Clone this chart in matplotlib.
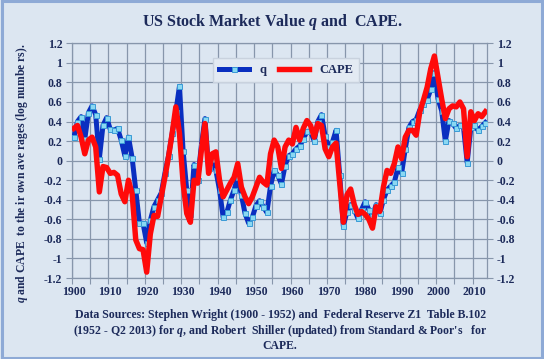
import matplotlib
matplotlib.use("Agg")
import matplotlib.pyplot as plt
from matplotlib.patches import Rectangle

# annual values, 1900 - 2013 (log, relative to own averages)
years = list(range(1900, 2014))

q_vals = [0.24, 0.40, 0.45, 0.22, 0.49, 0.56, 0.47, 0.02, 0.36, 0.44,
          0.32, 0.31, 0.33, 0.21, 0.05, 0.24, 0.03, -0.30, -0.64, -0.64,
          -0.84, -0.61, -0.47, -0.40, -0.33, -0.13, 0.05, 0.28, 0.50, 0.76,
          0.10, -0.30, -0.55, -0.04, -0.20, 0.15, 0.43, -0.08, 0.02, -0.10,
          -0.30, -0.58, -0.53, -0.40, -0.30, -0.17, -0.35, -0.54, -0.64, -0.58,
          -0.46, -0.41, -0.47, -0.53, -0.26, -0.10, -0.15, -0.24, -0.05, 0.05,
          0.07, 0.12, 0.15, 0.22, 0.30, 0.30, 0.20, 0.40, 0.47, 0.25,
          0.14, 0.19, 0.31, -0.15, -0.67, -0.52, -0.45, -0.50, -0.59, -0.50,
          -0.42, -0.50, -0.57, -0.45, -0.54, -0.40, -0.30, -0.26, -0.22, -0.07,
          -0.13, 0.12, 0.34, 0.40, 0.42, 0.52, 0.58, 0.62, 0.73, 0.90,
          0.63, 0.51, 0.20, 0.41, 0.38, 0.33, 0.36, 0.34, -0.02, 0.34,
          0.36, 0.31, 0.35, 0.39]

cape_vals = [0.33, 0.36, 0.24, 0.07, 0.21, 0.24, 0.14, -0.32, -0.06, -0.07,
             -0.13, -0.12, -0.15, -0.34, -0.42, -0.20, -0.34, -0.81, -0.90, -0.91,
             -1.14, -0.75, -0.56, -0.57, -0.37, -0.17, 0.04, 0.28, 0.55, 0.28,
             -0.23, -0.54, -0.63, -0.20, -0.23, 0.10, 0.38, -0.13, 0.07, 0.09,
             -0.20, -0.37, -0.30, -0.23, -0.17, -0.03, -0.27, -0.37, -0.44, -0.37,
             -0.27, -0.17, -0.22, -0.25, 0.07, 0.21, 0.14, -0.08, 0.14, 0.21,
             0.17, 0.34, 0.21, 0.33, 0.41, 0.36, 0.24, 0.38, 0.36, 0.12,
             0.04, 0.14, 0.18, -0.23, -0.63, -0.35, -0.29, -0.45, -0.55, -0.52,
             -0.55, -0.60, -0.69, -0.47, -0.52, -0.27, -0.10, -0.13, -0.03, 0.14,
             0.02, 0.24, 0.31, 0.31, 0.26, 0.50, 0.62, 0.75, 0.94, 1.07,
             0.85, 0.63, 0.43, 0.53, 0.56, 0.55, 0.60, 0.53, 0.04, 0.50,
             0.41, 0.48, 0.45, 0.50]

year_labels = list(range(1900, 2011, 10))
y_ticks = [1.2, 1.0, 0.8, 0.6, 0.4, 0.2, 0.0, -0.2, -0.4, -0.6, -0.8, -1.0, -1.2]
y_tick_labels = ["1.2", "1", "0.8", "0.6", "0.4", "0.2", "0", "-0.2", "-0.4",
                 "-0.6", "-0.8", "-1", "-1.2"]

bg = "#dce6f1"
navy = "#1c2a5a"
gridc = "#8796ab"

plt.rcParams["font.family"] = ["Liberation Serif", "DejaVu Serif"]
plt.rcParams["mathtext.fontset"] = "custom"
plt.rcParams["mathtext.it"] = "Liberation Serif:italic:bold"
plt.rcParams["mathtext.rm"] = "Liberation Serif:bold"

fig = plt.figure(figsize=(5.44, 3.59), dpi=100)
fig.patch.set_facecolor(bg)
fig.patches.append(Rectangle((0.003, 0.004), 0.994, 0.992, transform=fig.transFigure,
                             fill=False, edgecolor="#8eaad6", linewidth=2.2))

ax = fig.add_axes([0.1324, 0.2256, 0.7632, 0.6538])
ax.set_facecolor(bg)

ax.plot(years, q_vals, color="#0a2fc0", linewidth=3.6, marker="s", markersize=3.6,
        markerfacecolor="#8ad8f2", markeredgecolor="#3a9ad6", markeredgewidth=0.7,
        label="q", zorder=3)
ax.plot(years, cape_vals, color="#ff0a0a", linewidth=3.9, label="CAPE", zorder=4,
        solid_joinstyle="round")

ax.set_xlim(1899.5, 2013.5)
ax.set_ylim(-1.2, 1.2)

# gridlines every 5 years between the categories
grid_x = [1899.5 + 5 * k for k in range(23)]
ax.set_xticks(grid_x)
ax.set_xticklabels([])
ax.set_xticks(year_labels, minor=True)
ax.set_xticklabels([str(y) for y in year_labels], minor=True)
ax.tick_params(axis="x", which="major", length=4, color=gridc, direction="out")
ax.tick_params(axis="x", which="minor", length=0, pad=6, labelsize=8.5,
               labelcolor=navy)
for t in ax.get_xticklabels(minor=True):
    t.set_fontweight("bold")

ax.set_yticks(y_ticks)
ax.set_yticklabels(y_tick_labels, fontweight="bold", fontsize=8.5, color=navy)
ax.tick_params(axis="y", length=4, color=gridc, pad=3)
ax.grid(True, which="major", color=gridc, linewidth=0.9)
ax.set_axisbelow(True)
for s in ax.spines.values():
    s.set_color(gridc)
    s.set_linewidth(0.9)

ax2 = ax.twinx()
ax2.set_ylim(-1.2, 1.2)
ax2.set_yticks(y_ticks)
ax2.set_yticklabels(y_tick_labels, fontweight="bold", fontsize=8.5, color=navy)
ax2.tick_params(axis="y", length=4, color=gridc, pad=3)
for s in ax2.spines.values():
    s.set_visible(False)

leg = ax.legend(loc="upper left", bbox_to_anchor=(0.325, 0.965), ncol=2,
                frameon=True, fancybox=False, handlelength=2.4, columnspacing=1.0,
                borderpad=0.5, prop={"weight": "bold", "size": 9})
leg.get_frame().set_facecolor("#e3eaf3")
leg.get_frame().set_edgecolor("#c9d2de")
leg.get_frame().set_alpha(1)
for t in leg.get_texts():
    t.set_color(navy)

fig.text(0.5, 0.94, "US Stock Market Value $q$ and  CAPE.", ha="center", va="center",
         fontsize=11.5, fontweight="bold", color=navy)

fig.text(0.04, 0.518, "$q$ and CAPE  to the ir own ave rages (log numbe rs).",
         rotation=90, ha="center", va="center", fontsize=8.4, fontweight="bold",
         color=navy)

fig.text(0.515, 0.078,
         "Data Sources: Stephen Wright (1900 - 1952) and  Federal Reserve Z1  Table B.102\n"
         "(1952 - Q2 2013) for $q$, and Robert  Shiller (updated) from Standard & Poor's   for\n"
         "CAPE.",
         ha="center", va="center", fontsize=8.5, fontweight="bold", color=navy,
         linespacing=1.15)

fig.savefig("out.png", dpi=100, facecolor=bg)
